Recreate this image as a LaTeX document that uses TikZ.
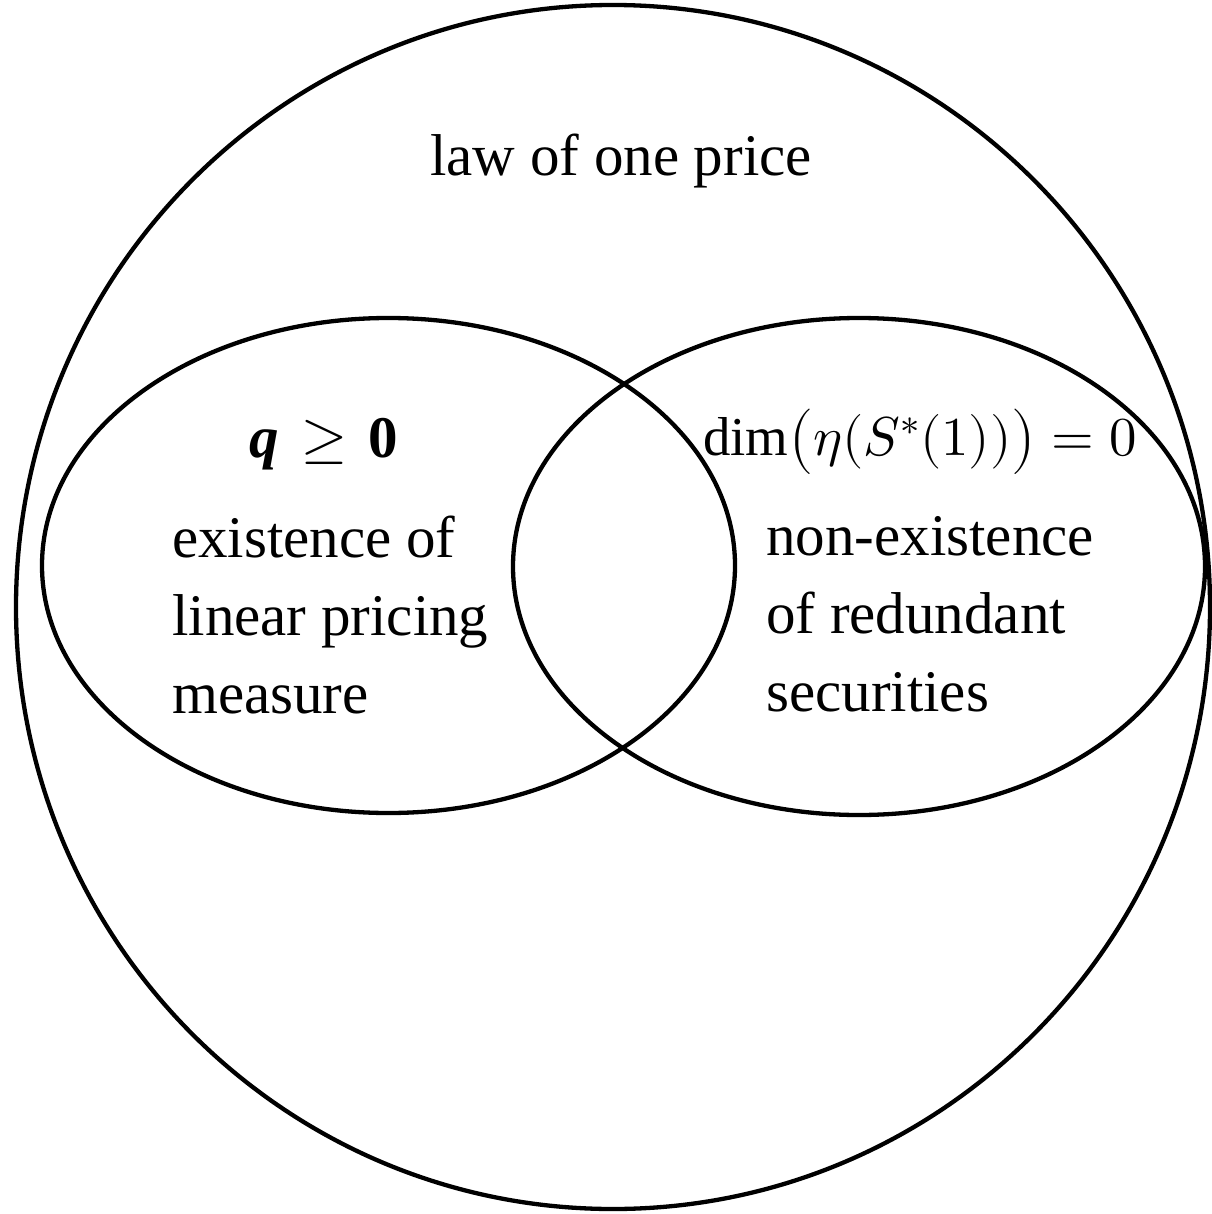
\documentclass[tikz,border=0pt]{standalone}
\usepackage{amsmath}
\usepackage{fontspec}
\usepackage{unicode-math}
\setmainfont{Liberation Serif}
\setmathfont{Latin Modern Math}
\usetikzlibrary{shapes.geometric}
\begin{document}
\begin{tikzpicture}[x=1pt,y=-1pt,
  setshape/.style={draw, line width=4.3pt, ellipse, inner sep=0pt},
  lbl/.style={inner sep=0pt, font=\fontsize{59}{78}\selectfont},
  blk/.style={lbl, align=left, anchor=north west}]
\useasboundingbox (0,0) rectangle (1211,1214);
\node[setshape, minimum width=1194pt, minimum height=1204pt] (big) at (613,607) {};
\node[setshape, minimum width=693pt, minimum height=495pt] (L) at (388.5,565.5) {};
\node[setshape, minimum width=692pt, minimum height=497pt] (R) at (859,566.5) {};
\node[lbl, anchor=base] (lop) at (621,176) {law of one price};
\node[lbl, anchor=base west] (q) at (249,457) {{\bfseries\itshape q}\hspace{0.38em}$\geq$\hspace{0.36em}{\bfseries 0}};
\node[lbl, anchor=base west, font=\fontsize{54.8}{70}\selectfont] (dim) at (703,455) {$\dim\bigl(\eta(S^*(1))\bigr) = 0$};
\node[blk] (lt) at (172,516) {existence of\\linear pricing\\measure};
\node[blk] (rt) at (766,516) {non-existence\\of redundant\\securities};
\end{tikzpicture}
\end{document}
